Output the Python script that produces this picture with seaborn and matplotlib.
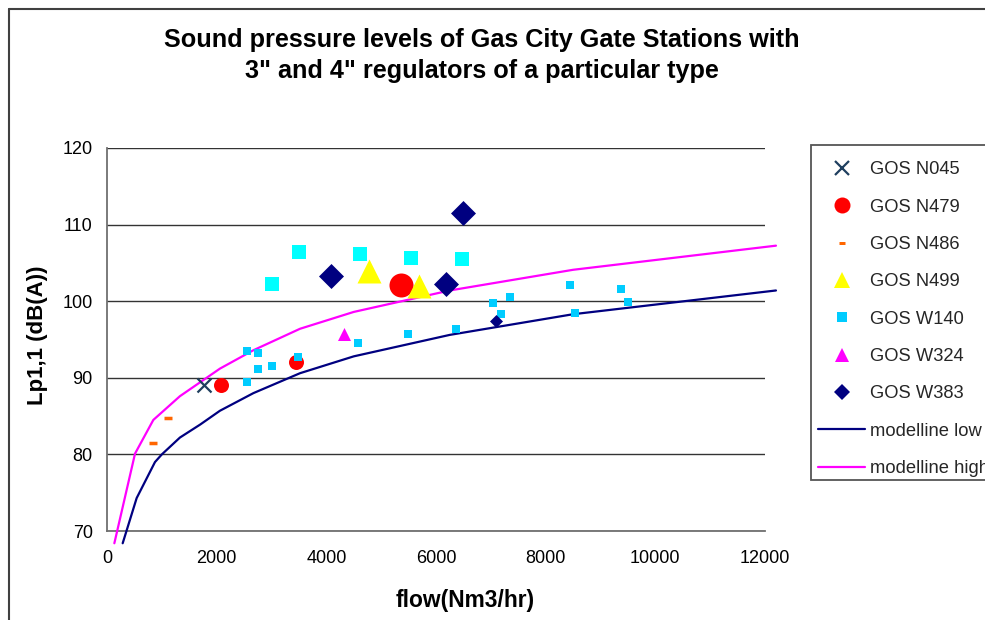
import matplotlib
matplotlib.use("Agg")
import matplotlib.pyplot as plt
from matplotlib.lines import Line2D
from matplotlib.patches import Rectangle
import seaborn as sns

# ---------------- data ----------------
n045_flow = [1770]
n045_lp = [89.0]

n479_flow = [2080, 3450]
n479_lp = [89.0, 92.0]
n479_big_flow = [5370]
n479_big_lp = [102.1]

n486_flow = [845, 1120]
n486_lp = [81.5, 84.8]

n499_flow = [4780, 5690]
n499_lp = [103.9, 102.0]

w140_flow = [2555, 2760, 2750, 3000, 2555, 3490, 4570, 5490, 6370, 7040,
             7190, 7355, 8440, 8535, 9375, 9500]
w140_lp = [93.5, 93.3, 91.1, 91.5, 89.4, 92.7, 94.6, 95.7, 96.4, 99.8,
           98.3, 100.5, 102.1, 98.5, 101.6, 99.9]
w140_big_flow = [3015, 3505, 4620, 5550, 6480]
w140_big_lp = [102.3, 106.4, 106.1, 105.6, 105.5]

w324_flow = [4320]
w324_lp = [95.7]

w383_flow = [7090]
w383_lp = [97.4]
w383_big_flow = [4085, 6185, 6485]
w383_big_lp = [103.3, 102.3, 111.5]

low_flow = [286, 541, 875, 1000, 1330, 1700, 2060, 2670, 3520, 4500, 6250, 8500, 12200]
low_lp = [68.4, 74.3, 79.0, 80.0, 82.2, 83.9, 85.7, 88.0, 90.6, 92.8, 95.6, 98.3, 101.4]
high_flow = [134, 511, 845, 1330, 2060, 2670, 3520, 4500, 6250, 8500, 12200]
high_lp = [68.4, 80.1, 84.5, 87.6, 91.2, 93.6, 96.4, 98.6, 101.4, 104.1, 107.25]

x_ticks = [0, 2000, 4000, 6000, 8000, 10000, 12000]
y_ticks = [70, 80, 90, 100, 110, 120]

title_1 = "Sound pressure levels of Gas City Gate Stations with"
title_2 = '3" and 4" regulators of a particular type'
x_label = "flow(Nm3/hr)"
y_label = "Lp1,1 (dB(A))"

# ---------------- style ----------------
sns.set_theme(style="white")
plt.rcParams["font.family"] = ["Liberation Sans", "DejaVu Sans"]

W, H = 985, 620
fig = plt.figure(figsize=(W / 100, H / 100), dpi=100)
fig.patch.set_facecolor("white")
ax = fig.add_axes([107 / W, 1 - 531 / H, 658 / W, 383 / H])
ax.set_facecolor("white")

PX = 1 / 1.389  # pixel -> point at 100 dpi


def pts(x, y, marker, color, size_px, z, lw=0.0):
    sns.scatterplot(x=x, y=y, marker=marker, s=(size_px * PX) ** 2, color=color,
                    linewidth=lw, ax=ax, zorder=z, legend=False, clip_on=False)


# model lines
sns.lineplot(x=low_flow, y=low_lp, color="#000080", linewidth=1.6, ax=ax,
             sort=False, estimator=None, zorder=3, clip_on=False)
sns.lineplot(x=high_flow, y=high_lp, color="#FF00FF", linewidth=1.6, ax=ax,
             sort=False, estimator=None, zorder=3, clip_on=False)

# markers
pts(n045_flow, n045_lp, "x", "#1F3F5F", 14, 5, lw=1.6)
pts(n479_flow, n479_lp, "o", "#FF0000", 15, 5)
pts(n479_big_flow, n479_big_lp, "o", "#FF0000", 24, 5)
pts(n486_flow, n486_lp, "_", "#FF6600", 8, 5, lw=3.5 * PX)
pts(w140_big_flow, w140_big_lp, "s", "#00FFFF", 15, 5)
pts(n499_flow, n499_lp, "^", "#FFFF00", 24, 6)
pts(w140_flow, w140_lp, "s", "#00CCFF", 9, 6)
pts(w324_flow, w324_lp, "^", "#FF00FF", 13, 6)
pts(w383_flow, w383_lp, "D", "#000080", 13 / 1.414, 7)
pts(w383_big_flow, w383_big_lp, "D", "#000080", 25 / 1.414, 7)

# axes
ax.set_xlim(0, 12000)
ax.set_ylim(70, 120)
ax.set_xticks(x_ticks)
ax.set_yticks(y_ticks)
ax.set_xticklabels([str(v) for v in x_ticks])
ax.set_yticklabels([str(v) for v in y_ticks])
ax.tick_params(axis="both", labelsize=13, colors="#000000", direction="out",
               length=5, width=1, color="#606060")
ax.tick_params(axis="x", pad=8.5)
ax.tick_params(axis="y", pad=5.3)
ax.yaxis.grid(True, color="#333333", linewidth=1)
ax.xaxis.grid(False)
ax.set_axisbelow(True)
for s in ("top", "right"):
    ax.spines[s].set_visible(False)
for s in ("left", "bottom"):
    ax.spines[s].set_color("#707070")
    ax.spines[s].set_linewidth(1.3)
ax.set_xlabel("")
ax.set_ylabel("")

# titles and labels
fig.text(482 / W, 1 - 46.7 / H, title_1, ha="center", va="baseline",
         fontsize=18.2, fontweight="bold", color="black")
fig.text(482 / W, 1 - 78.3 / H, title_2, ha="center", va="baseline",
         fontsize=18.2, fontweight="bold", color="black")
fig.text(465 / W, 1 - 601 / H, x_label, ha="center", va="center",
         fontsize=16.4, fontweight="bold", color="black")
fig.text(37 / W, 1 - 335 / H, y_label, ha="center", va="center", rotation=90,
         fontsize=16, fontweight="bold", color="black")

# outer chart frame (left and top edges visible)
fig.add_artist(Line2D([9 / W, 9 / W], [0, 1 - 9 / H], transform=fig.transFigure,
                      color="#404040", linewidth=1.5))
fig.add_artist(Line2D([9 / W, 1], [1 - 9 / H, 1 - 9 / H], transform=fig.transFigure,
                      color="#404040", linewidth=1.5))

# legend frame
fig.add_artist(Rectangle((810.7 / W, 1 - 480 / H), 200 / W, 335 / H,
                         transform=fig.transFigure, facecolor="white",
                         edgecolor="#555555", linewidth=1.3, zorder=1))

# legend
handles = [
    Line2D([], [], ls="none", marker="x", color="#1F3F5F", markersize=15 * PX, mew=1.6),
    Line2D([], [], ls="none", marker="o", color="#FF0000", markersize=16 * PX, mew=0),
    Line2D([], [], ls="none", marker="_", color="#FF6600", markersize=7 * PX, mew=3 * PX),
    Line2D([], [], ls="none", marker="^", color="#FFFF00", markersize=16 * PX, mew=0),
    Line2D([], [], ls="none", marker="s", color="#00CCFF", markersize=10 * PX, mew=0),
    Line2D([], [], ls="none", marker="^", color="#FF00FF", markersize=14 * PX, mew=0),
    Line2D([], [], ls="none", marker="D", color="#000080", markersize=16 / 1.414 * PX, mew=0),
    Line2D([], [], color="#000080", linewidth=1.6),
    Line2D([], [], color="#FF00FF", linewidth=1.6),
]
labels = ["GOS N045", "GOS N479", "GOS N486", "GOS N499", "GOS W140",
          "GOS W324", "GOS W383", "modelline low", "modelline high"]
leg = fig.legend(handles, labels, loc="upper left",
                 bbox_to_anchor=(810.7 / W, 1 - 154 / H), bbox_transform=fig.transFigure,
                 borderaxespad=0, fontsize=13.2, frameon=False,
                 handlelength=2.57, handletextpad=0.28, borderpad=0.4,
                 labelspacing=1.11)
leg.set_zorder(2)

fig.savefig("out.png", dpi=100, facecolor="white")
